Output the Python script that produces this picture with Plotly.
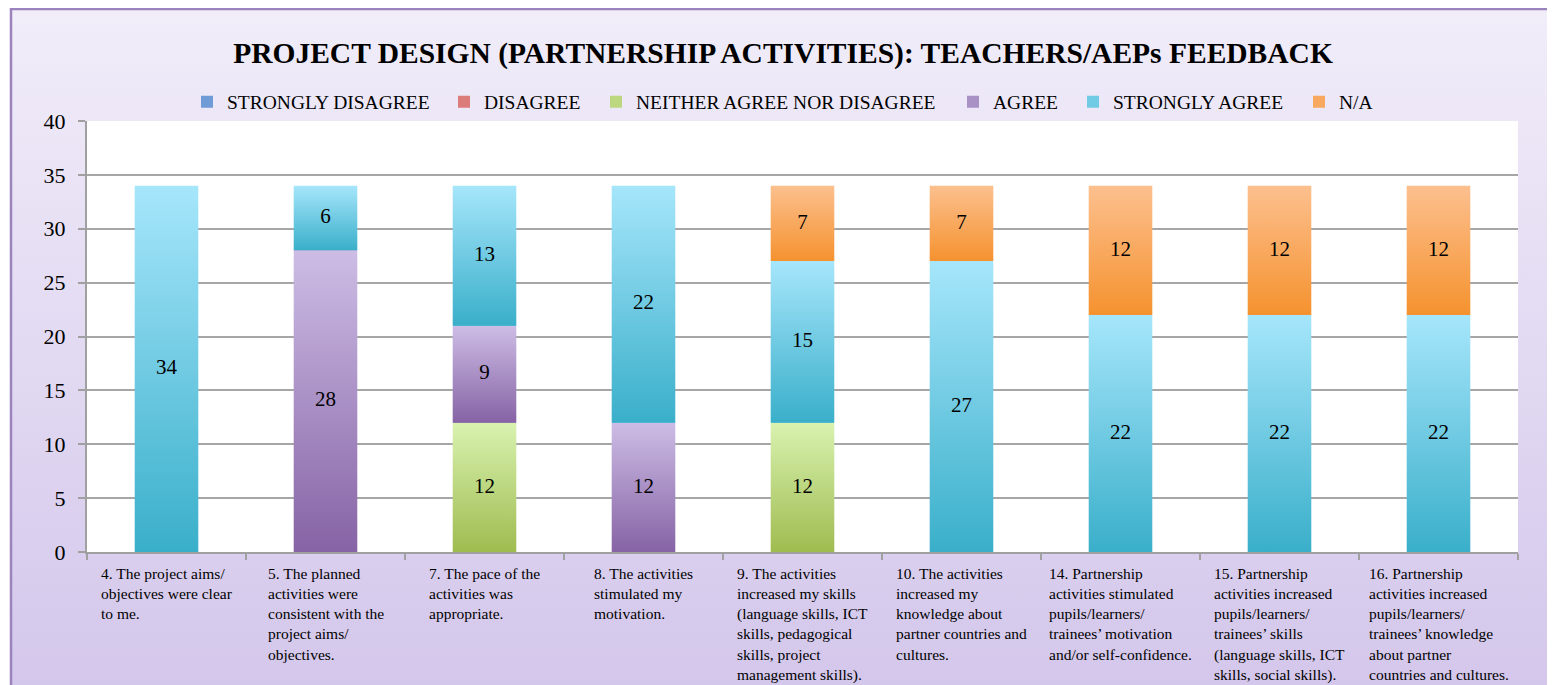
import base64
import plotly.graph_objects as go

# ---------------- data ----------------
categories = ["Q4", "Q5", "Q7", "Q8", "Q9", "Q10", "Q14", "Q15", "Q16"]
category_labels = [
    "4. The project aims/\nobjectives were clear\nto me.",
    "5. The planned\nactivities were\nconsistent with the\nproject aims/\nobjectives.",
    "7. The pace of the\nactivities was\nappropriate.",
    "8. The activities\nstimulated my\nmotivation.",
    "9. The activities\nincreased my skills\n(language skills, ICT\nskills, pedagogical\nskills, project\nmanagement skills).",
    "10. The activities\nincreased my\nknowledge about\npartner countries and\ncultures.",
    "14. Partnership\nactivities stimulated\npupils/learners/\ntrainees\u2019 motivation\nand/or self-confidence.",
    "15. Partnership\nactivities increased\npupils/learners/\ntrainees\u2019 skills\n(language skills, ICT\nskills, social skills).",
    "16. Partnership\nactivities increased\npupils/learners/\ntrainees\u2019 knowledge\nabout partner\ncountries and cultures.",
]
series_names = ["STRONGLY DISAGREE", "DISAGREE", "NEITHER AGREE NOR DISAGREE",
                "AGREE", "STRONGLY AGREE", "N/A"]
strongly_disagree = [0, 0, 0, 0, 0, 0, 0, 0, 0]
disagree = [0, 0, 0, 0, 0, 0, 0, 0, 0]
neither = [0, 0, 12, 0, 12, 0, 0, 0, 0]
agree = [0, 28, 9, 12, 0, 0, 0, 0, 0]
strongly_agree = [34, 6, 13, 22, 15, 27, 22, 22, 22]
not_applicable = [0, 0, 0, 0, 7, 7, 12, 12, 12]
y_ticks = [0, 5, 10, 15, 20, 25, 30, 35, 40]
title_text = "PROJECT DESIGN (PARTNERSHIP ACTIVITIES): TEACHERS/AEPs FEEDBACK"

series_values = [strongly_disagree, disagree, neither, agree, strongly_agree, not_applicable]
series_colors = ["#6f9bd6", "#dc7c7a", "#bdd781", "#a991c6", "#72cbe4", "#f9a95f"]
grad_top = ["#a9c8f0", "#f2a8a6", "#d9f2b0", "#cdbde5", "#a6e6fb", "#fcc08e"]
grad_bottom = ["#4f81bd", "#c0504d", "#9fbc50", "#8663a5", "#3aafca", "#f5922f"]

FONT = "Liberation Serif"
BAR_W = 0.4

# ---------------- geometry (screen pixels; page body has 8px margin) ----------------
SW, SH = 1555, 685
OFF = 8
W, H = SW - OFF, SH - OFF
PX0, PX1, PY0, PY1 = 87, 1518, 121, 552  # plot area in screen px
L, R, T, B = PX0 - OFF, SW - PX1, PY0 - OFF, SH - PY1
pw, ph = PX1 - PX0, PY1 - PY0
legend_text_px = [223, 480, 632, 989, 1109, 1335]  # where each legend entry's text starts


def pxx(sx):
    return (sx - PX0) / pw


def pxy(sy):
    return (PY1 - sy) / ph


x_pos = list(range(len(categories)))
legend_ids = ["legend"] + ["legend%d" % k for k in range(2, len(series_names) + 1)]

fig = go.Figure()
for name, vals, col, lg in zip(series_names, series_values, series_colors, legend_ids):
    fig.add_trace(go.Bar(
        name=name, x=x_pos, y=vals, width=BAR_W, legend=lg,
        marker=dict(color=col, line=dict(width=0)),
        customdata=categories, hovertemplate="%{customdata}: %{y}<extra>" + name + "</extra>",
    ))

# gradient overlay for each stacked segment (derived from the data arrays)
label_x, label_y, label_t = [], [], []
base = [0] * len(categories)
for s, vals in enumerate(series_values):
    for i, v in enumerate(vals):
        if v > 0:
            y0, y1 = base[i], base[i] + v
            xa, xb = x_pos[i] - BAR_W / 2, x_pos[i] + BAR_W / 2
            fig.add_trace(go.Scatter(
                x=[xa, xb, xb, xa, xa], y=[y0, y0, y1, y1, y0],
                mode="none", fill="toself",
                fillgradient=dict(type="vertical",
                                  colorscale=[[0, grad_bottom[s]], [1, grad_top[s]]]),
                showlegend=False, hoverinfo="skip",
            ))
            label_x.append(x_pos[i])
            label_y.append((y0 + y1) / 2)
            label_t.append(str(v))
        base[i] += v

fig.add_trace(go.Scatter(
    x=label_x, y=label_y, text=label_t, mode="text",
    textfont=dict(family=FONT, size=21, color="#000000"),
    showlegend=False, hoverinfo="skip",
))

# background gradient (whole chart area) via SVG image
svg = ('<svg xmlns="http://www.w3.org/2000/svg" width="100" height="100" preserveAspectRatio="none">'
       '<defs><linearGradient id="g" x1="0" y1="0" x2="0" y2="1">'
       '<stop offset="0" stop-color="#f1edf9"/><stop offset="1" stop-color="#d3c6eb"/>'
       '</linearGradient></defs><rect width="100" height="100" fill="url(#g)"/></svg>')
src = "data:image/svg+xml;base64," + base64.b64encode(svg.encode()).decode()
bx0, bx1, by0, by1 = 11, 1552, 9, 700
fig.add_layout_image(dict(
    source=src, xref="paper", yref="paper",
    x=pxx(bx0), y=pxy(by0),
    sizex=(bx1 - bx0) / pw, sizey=(by1 - by0) / ph,
    xanchor="left", yanchor="top", sizing="stretch", layer="below",
))
fig.add_shape(type="rect", xref="paper", yref="paper", x0=0, x1=1, y0=0, y1=1,
              fillcolor="white", line=dict(width=0), layer="below")
fig.add_shape(type="rect", xref="paper", yref="paper",
              x0=pxx(bx0), x1=pxx(bx1), y0=pxy(by1), y1=pxy(by0),
              fillcolor="rgba(0,0,0,0)", line=dict(color="#9b84bd", width=2.5), layer="below")

# category labels (block centred in category, lines left aligned)
for i, lab in enumerate(category_labels):
    fig.add_annotation(
        x=x_pos[i], xref="x", y=0, yref="paper",
        text=lab.replace("\n", "<br>"), showarrow=False,
        xanchor="center", yanchor="top", align="left",
        yshift=-11,
        font=dict(family=FONT, size=15.5, color="#000000"),
    )

legend_layouts = {}
for lg, tx in zip(legend_ids, legend_text_px):
    legend_layouts[lg] = dict(
        orientation="h", x=pxx(tx - 36), xanchor="left", y=pxy(102), yanchor="middle",
        bgcolor="rgba(0,0,0,0)", font=dict(family=FONT, size=19.5, color="#000000"),
        itemwidth=30,
    )

fig.update_layout(
    width=W, height=H,
    margin=dict(l=L, r=R, t=T, b=B, pad=0),
    barmode="stack",
    paper_bgcolor="white", plot_bgcolor="white",
    font=dict(family=FONT, color="#000000"),
    title=dict(text="<b>" + title_text + "</b>", x=(783 - OFF) / W, xanchor="center",
               y=1 - (53 - OFF) / H, yanchor="middle",
               font=dict(family=FONT, size=29.5, color="#000000")),
    showlegend=True,
    xaxis=dict(type="linear", range=[-0.5, len(categories) - 0.5],
               tickvals=[k - 0.5 for k in range(len(categories) + 1)],
               showticklabels=False, ticks="outside",
               ticklen=6, tickcolor="#a0a0a0", tickwidth=1.5,
               showline=True, linecolor="#a0a0a0", linewidth=2, showgrid=False,
               zeroline=False, fixedrange=True),
    yaxis=dict(range=[0, 40], tickvals=y_ticks, ticks="outside", ticklen=7,
               tickcolor="#a0a0a0", tickwidth=1.5, showline=True, linecolor="#a0a0a0",
               linewidth=2, showgrid=True, gridcolor="#a6a6a6", gridwidth=1.5,
               zeroline=False, ticklabelstandoff=8,
               tickfont=dict(family=FONT, size=22, color="#000000")),
    **legend_layouts,
)

fig.write_html("out.html")
